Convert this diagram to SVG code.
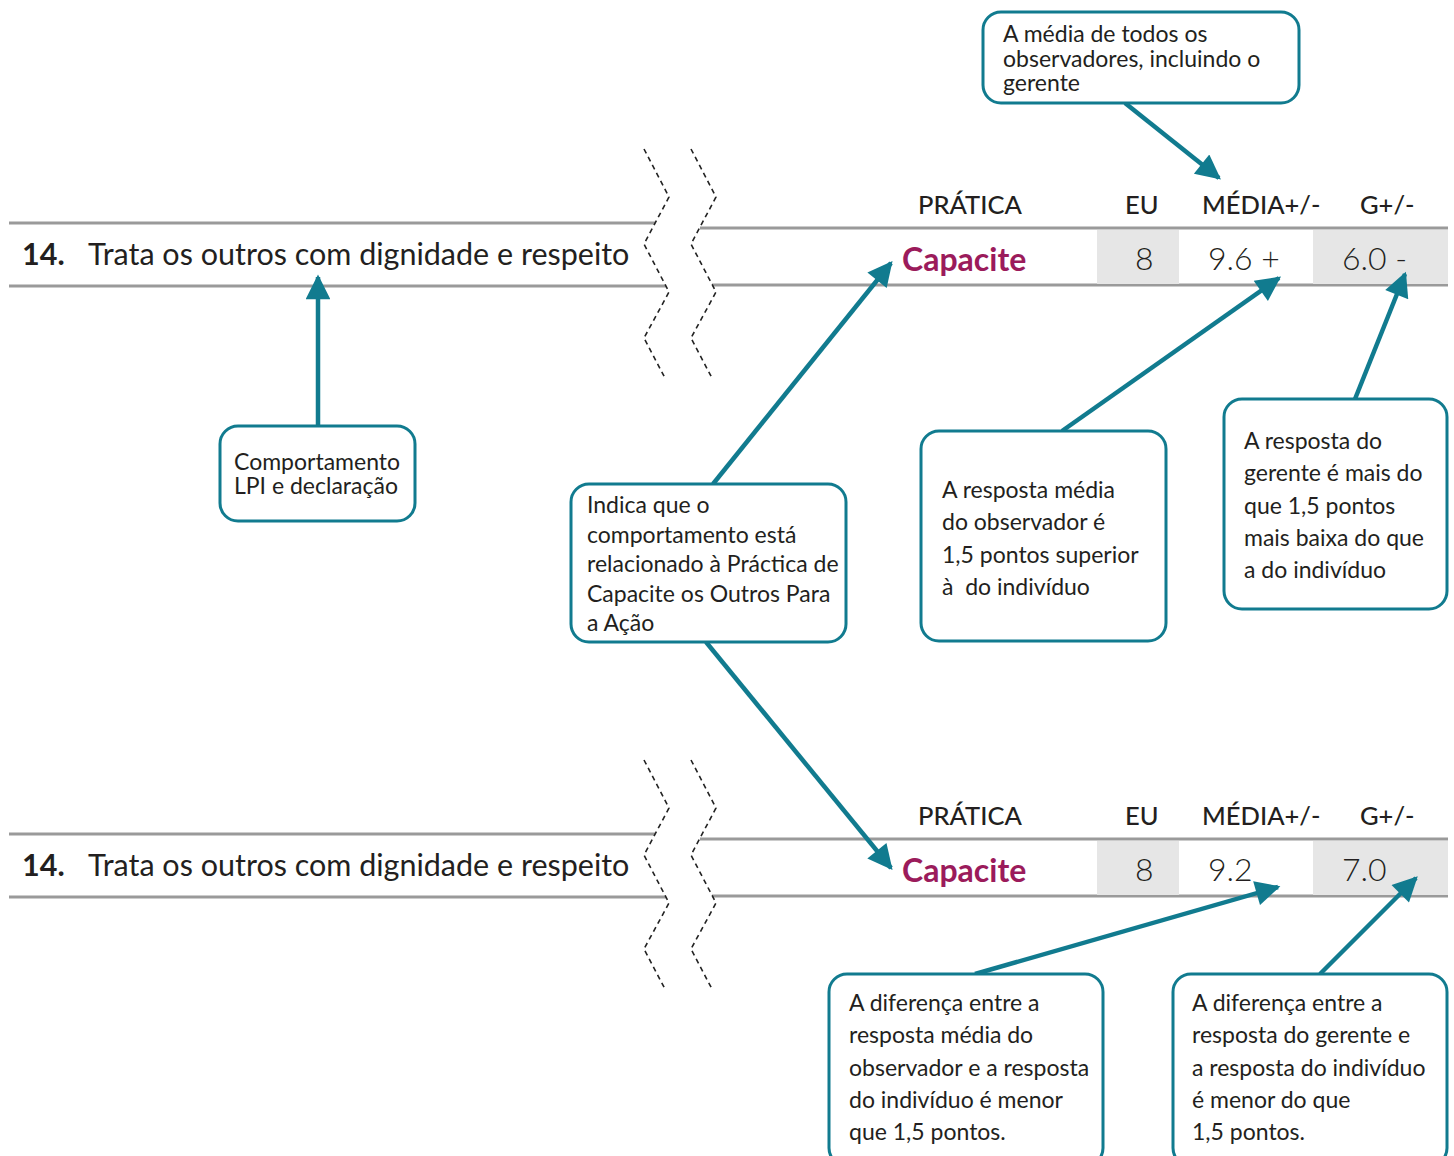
<svg xmlns="http://www.w3.org/2000/svg" width="1454" height="1156" viewBox="0 0 1454 1156">
<style>
.rule{stroke:#9a9a9a;stroke-width:3;fill:none}
.zig{stroke:#222;stroke-width:1.6;stroke-dasharray:5 4;fill:none}
.cell{fill:#e6e6e6}
.t{font-family:Lato,"Noto Sans",sans-serif;fill:#231f20}
.big{font-size:30.5px}
.num{font-size:32px;font-weight:300}
.hd{font-size:25.5px;font-weight:500}
.bold{font-weight:700}
.cap{font-family:Lato,"Noto Sans",sans-serif;font-size:32px;font-weight:700;fill:#9b1b5b}
.box{fill:#fff;stroke:#117b8f;stroke-width:3}
.lbl{font-family:Lato,"Noto Sans",sans-serif;font-size:23px;fill:#231f20}
.arr{stroke:#117b8f;stroke-width:4.5;fill:none}
</style>
<defs>
<marker id="ah" viewBox="0 0 10 10" refX="9" refY="5" markerWidth="6" markerHeight="5.5" markerUnits="strokeWidth" orient="auto">
<path d="M0,0 L10,5 L0,10 z" fill="#117b8f"/>
</marker>
</defs>

<g id="row-top">
<line class="rule" x1="9" y1="223" x2="655" y2="223"/>
<line class="rule" x1="9" y1="286" x2="666" y2="286"/>
<line class="rule" x1="700" y1="228" x2="1448" y2="228"/>
<line class="rule" x1="712" y1="285" x2="1448" y2="285"/>
<polyline class="zig" points="644,149 669,197 644,244 669,292 644,338 665,378"/>
<polyline class="zig" points="691,149 716,197 691,244 716,292 691,338 712,378"/>
<rect class="cell" x="1097" y="230" width="82" height="54"/>
<rect class="cell" x="1313" y="230" width="135" height="54"/>
<text class="t big bold" x="22" y="265">14.</text>
<text class="t big" x="88" y="265">Trata os outros com dignidade e respeito</text>
<text class="t hd" x="918" y="214">PRÁTICA</text>
<text class="t hd" x="1125" y="214">EU</text>
<text class="t hd" x="1202" y="214">MÉDIA+/-</text>
<text class="t hd" x="1360" y="214">G+/-</text>
<text class="cap" x="902" y="271">Capacite</text>
<text class="t num" x="1135" y="270">8</text>
<text class="t num" x="1208" y="270">9.6 +</text>
<text class="t num" x="1342" y="270">6.0 -</text>
</g>

<g id="row-bottom">
<line class="rule" x1="9" y1="834" x2="655" y2="834"/>
<line class="rule" x1="9" y1="897" x2="666" y2="897"/>
<line class="rule" x1="700" y1="839" x2="1448" y2="839"/>
<line class="rule" x1="712" y1="896" x2="1448" y2="896"/>
<polyline class="zig" points="644,760 669,808 644,855 669,903 644,949 665,989"/>
<polyline class="zig" points="691,760 716,808 691,855 716,903 691,949 712,989"/>
<rect class="cell" x="1097" y="841" width="82" height="54"/>
<rect class="cell" x="1313" y="841" width="135" height="54"/>
<text class="t big bold" x="22" y="876">14.</text>
<text class="t big" x="88" y="876">Trata os outros com dignidade e respeito</text>
<text class="t hd" x="918" y="825">PRÁTICA</text>
<text class="t hd" x="1125" y="825">EU</text>
<text class="t hd" x="1202" y="825">MÉDIA+/-</text>
<text class="t hd" x="1360" y="825">G+/-</text>
<text class="cap" x="902" y="882">Capacite</text>
<text class="t num" x="1135" y="881">8</text>
<text class="t num" x="1208" y="881">9.2</text>
<text class="t num" x="1342" y="881">7.0</text>
</g>

<g id="connectors">
<line class="arr" x1="1125" y1="103" x2="1219" y2="178" marker-end="url(#ah)"/>
<line class="arr" x1="318" y1="426" x2="318" y2="277" marker-end="url(#ah)"/>
<line class="arr" x1="713" y1="484" x2="891" y2="263" marker-end="url(#ah)"/>
<line class="arr" x1="706" y1="642" x2="891" y2="868" marker-end="url(#ah)"/>
<line class="arr" x1="1062" y1="431" x2="1279" y2="278" marker-end="url(#ah)"/>
<line class="arr" x1="1355" y1="399" x2="1405" y2="274" marker-end="url(#ah)"/>
<line class="arr" x1="975" y1="974" x2="1278" y2="887" marker-end="url(#ah)"/>
<line class="arr" x1="1320" y1="974" x2="1416" y2="878" marker-end="url(#ah)"/>
</g>

<g id="note-media">
<rect class="box" x="983" y="12" width="316" height="91" rx="18"/>
<text class="lbl" x="1003" y="42">A média de todos os</text>
<text class="lbl" x="1003" y="67">observadores, incluindo o</text>
<text class="lbl" x="1003" y="91">gerente</text>
</g>

<g id="note-comportamento">
<rect class="box" x="220" y="426" width="195" height="95" rx="18"/>
<text class="lbl" x="234" y="470">Comportamento</text>
<text class="lbl" x="234" y="494">LPI e declaração</text>
</g>

<g id="note-indica">
<rect class="box" x="571" y="484" width="275" height="158" rx="18"/>
<text class="lbl" x="587" y="513">Indica que o</text>
<text class="lbl" x="587" y="543">comportamento está</text>
<text class="lbl" x="587" y="572">relacionado à Práctica de</text>
<text class="lbl" x="587" y="602">Capacite os Outros Para</text>
<text class="lbl" x="587" y="631">a Ação</text>
</g>

<g id="note-resposta-media">
<rect class="box" x="921" y="431" width="245" height="210" rx="18"/>
<text class="lbl" x="942" y="498">A resposta média</text>
<text class="lbl" x="942" y="530">do observador é</text>
<text class="lbl" x="942" y="563">1,5 pontos superior</text>
<text class="lbl" x="942" y="595">à&#160; do indivíduo</text>
</g>

<g id="note-resposta-gerente">
<rect class="box" x="1224" y="399" width="223" height="210" rx="18"/>
<text class="lbl" x="1244" y="449">A resposta do</text>
<text class="lbl" x="1244" y="481">gerente é mais do</text>
<text class="lbl" x="1244" y="514">que 1,5 pontos</text>
<text class="lbl" x="1244" y="546">mais baixa do que</text>
<text class="lbl" x="1244" y="578">a do indivíduo</text>
</g>

<g id="note-diferenca-media">
<rect class="box" x="829" y="974" width="274" height="192" rx="18"/>
<text class="lbl" x="849" y="1011">A diferença entre a</text>
<text class="lbl" x="849" y="1043">resposta média do</text>
<text class="lbl" x="849" y="1076">observador e a resposta</text>
<text class="lbl" x="849" y="1108">do indivíduo é menor</text>
<text class="lbl" x="849" y="1140">que 1,5 pontos.</text>
</g>

<g id="note-diferenca-gerente">
<rect class="box" x="1173" y="974" width="274" height="192" rx="18"/>
<text class="lbl" x="1192" y="1011">A diferença entre a</text>
<text class="lbl" x="1192" y="1043">resposta do gerente e</text>
<text class="lbl" x="1192" y="1076">a resposta do indivíduo</text>
<text class="lbl" x="1192" y="1108">é menor do que</text>
<text class="lbl" x="1192" y="1140">1,5 pontos.</text>
</g>
</svg>
